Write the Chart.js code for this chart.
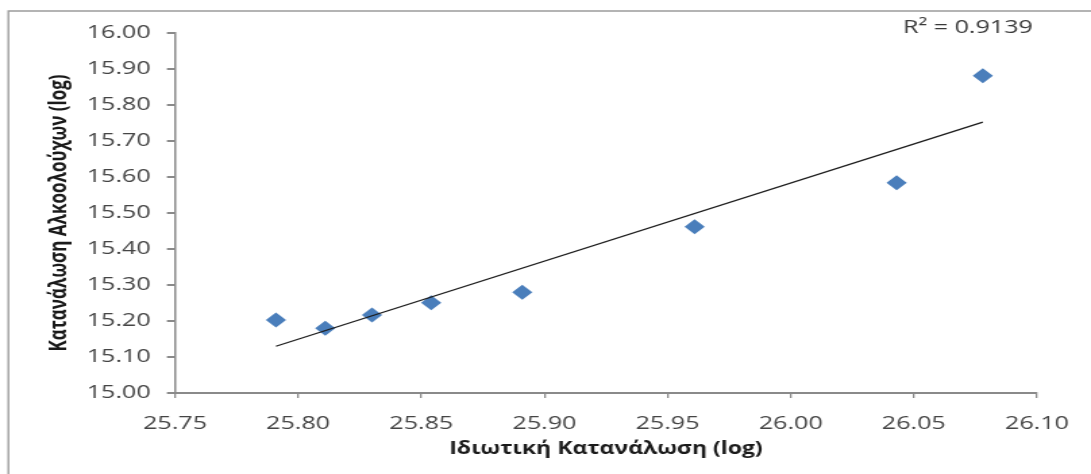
<!DOCTYPE html>
<html lang="el">
<head>
<meta charset="utf-8">
<title>Ιδιωτική Κατανάλωση – Κατανάλωση Αλκοολούχων</title>
<script src="https://cdn.jsdelivr.net/npm/chart.js@4/dist/chart.umd.min.js"></script>
<style>
  html, body { margin: 0; padding: 0; background: #ffffff; overflow: hidden; }
  #chart { display: block; }
</style>
</head>
<body>
<!-- The canvas is drawn 808 px wide and widened to 1091 px by CSS,
     which gives the broad lettering and the flattened diamond markers. -->
<canvas id="chart" width="808" height="474" style="width:1091px;height:474px"></canvas>
<script>
// log of private consumption (x) against log of alcoholic beverage consumption (y)
const privateConsumption = [25.791, 25.811, 25.830, 25.854, 25.891, 25.961, 26.043, 26.078];
const alcoholConsumption = [15.203, 15.180, 15.217, 15.251, 15.280, 15.462, 15.584, 15.881];

const xTickValues = [25.75, 25.80, 25.85, 25.90, 25.95, 26.00, 26.05, 26.10];
const yTickValues = [15.00, 15.10, 15.20, 15.30, 15.40, 15.50, 15.60, 15.70, 15.80, 15.90, 16.00];

const xAxisTitle = 'Ιδιωτική Κατανάλωση (log)';
const yAxisTitle = 'Κατανάλωση Αλκοολούχων (log)';
const rSquaredLabel = 'R² = 0.9139';

// ordinary least-squares fit for the linear trend line
function leastSquares(xs, ys) {
  const n = xs.length;
  const mx = xs.reduce((a, b) => a + b, 0) / n;
  const my = ys.reduce((a, b) => a + b, 0) / n;
  let sxy = 0, sxx = 0;
  for (let i = 0; i < n; i++) {
    sxy += (xs[i] - mx) * (ys[i] - my);
    sxx += (xs[i] - mx) * (xs[i] - mx);
  }
  const slope = sxy / sxx;
  return { slope, intercept: my - slope * mx };
}

const fit = leastSquares(privateConsumption, alcoholConsumption);
const xFirst = Math.min(...privateConsumption);
const xLast = Math.max(...privateConsumption);
const trendPoints = [xFirst, xLast].map(x => ({ x, y: fit.intercept + fit.slope * x }));
const scatterPoints = privateConsumption.map((x, i) => ({ x, y: alcoholConsumption[i] }));

const AXIS_GRAY = '#8a8a8a';
const LABEL_GRAY = '#454545';
const TITLE_DARK = '#1a1a1a';
const FONT = '"Open Sans", "DejaVu Sans", sans-serif';

// outer frame of the chart and the R² caption
const framePlugin = {
  id: 'frame',
  beforeDraw(chart) {
    const ctx = chart.ctx;
    ctx.save();
    ctx.strokeStyle = '#9c9c9c';
    ctx.lineWidth = 1.4;
    ctx.beginPath();
    ctx.moveTo(6.2, chart.height + 5);
    ctx.lineTo(6.2, 11);
    ctx.lineTo(chart.width + 5, 11);
    ctx.stroke();
    ctx.restore();
  },
  afterDraw(chart) {
    const ctx = chart.ctx;
    ctx.save();
    ctx.font = '18.6px ' + FONT;
    ctx.fillStyle = '#3a3a3a';
    ctx.textAlign = 'right';
    ctx.textBaseline = 'middle';
    ctx.fillText(rSquaredLabel, chart.chartArea.right - 3, 28);
    ctx.restore();
  }
};

function draw() {
  new Chart(document.getElementById('chart'), {
    data: {
      datasets: [
        {
          type: 'line',
          label: 'trend',
          data: trendPoints,
          borderColor: '#1c1c1c',
          borderWidth: 1.3,
          pointRadius: 0,
          fill: false,
          order: 0
        },
        {
          type: 'scatter',
          label: 'data',
          data: scatterPoints,
          pointStyle: 'rectRot',
          pointRadius: 7.5,
          pointHoverRadius: 7.5,
          backgroundColor: '#4a7ebb',
          borderColor: '#4a7ebb',
          borderWidth: 0,
          order: 1
        }
      ]
    },
    options: {
      responsive: false,
      devicePixelRatio: 1,
      animation: false,
      events: [],
      layout: { padding: { left: 0, right: 40, top: 33, bottom: 0 } },
      plugins: {
        legend: { display: false },
        tooltip: { enabled: false }
      },
      scales: {
        x: {
          type: 'linear',
          position: 'bottom',
          min: 25.75,
          max: 26.10,
          afterBuildTicks: axis => { axis.ticks = xTickValues.map(v => ({ value: v })); },
          afterFit: axis => { axis.height = 81; },
          ticks: {
            callback: v => Number(v).toFixed(2),
            color: LABEL_GRAY,
            font: { family: FONT, size: 18.6 },
            padding: 15,
            maxRotation: 0,
            autoSkip: false
          },
          grid: { drawOnChartArea: false, drawTicks: true, tickLength: 5, color: AXIS_GRAY, lineWidth: 1.3 },
          border: { display: true, color: AXIS_GRAY, width: 2 },
          title: {
            display: true,
            text: xAxisTitle,
            color: TITLE_DARK,
            font: { family: FONT, size: 17, weight: 'bold' },
            padding: { top: 0, bottom: 15 }
          }
        },
        y: {
          type: 'linear',
          position: 'left',
          min: 15,
          max: 16,
          afterBuildTicks: axis => { axis.ticks = yTickValues.map(v => ({ value: v })); },
          afterFit: axis => { axis.width = 129.6; },
          ticks: {
            callback: v => Number(v).toFixed(2),
            color: LABEL_GRAY,
            font: { family: FONT, size: 18.6 },
            padding: 12,
            autoSkip: false
          },
          grid: { drawOnChartArea: false, drawTicks: true, tickLength: 6, color: AXIS_GRAY, lineWidth: 2 },
          border: { display: true, color: AXIS_GRAY, width: 1.5 },
          title: {
            display: true,
            text: yAxisTitle,
            color: TITLE_DARK,
            font: { family: FONT, size: 17, weight: 'bold' },
            padding: { top: 33.5, bottom: 0 }
          }
        }
      }
    },
    plugins: [framePlugin]
  });
}

if (document.fonts && document.fonts.load) {
  Promise.all([
    document.fonts.load('18.6px "Open Sans"'),
    document.fonts.load('bold 17px "Open Sans"')
  ]).then(draw, draw);
} else {
  draw();
}
</script>
</body>
</html>
